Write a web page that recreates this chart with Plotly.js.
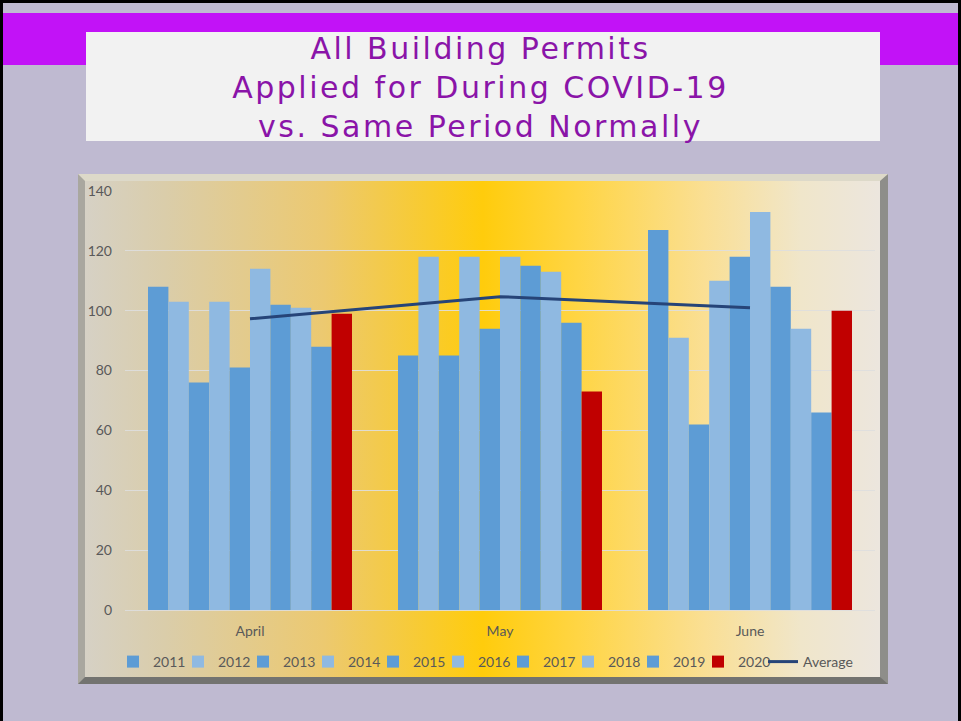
<!DOCTYPE html>
<html>
<head>
<meta charset="utf-8">
<script src="https://cdn.plot.ly/plotly-3.0.1.min.js"></script>
<style>
  html, body { margin: 0; padding: 0; }
  #stage { position: relative; width: 961px; height: 721px; background: #BFBAD1; overflow: hidden; }
  .abs { position: absolute; }
  #bTop { left: 0; top: 0; width: 961px; height: 3px; background: #000; }
  #bLeft { left: 0; top: 0; width: 3px; height: 721px; background: #000; }
  #bRight { left: 958px; top: 0; width: 3px; height: 721px; background: #000; }
  #band { left: 3px; top: 13px; width: 955px; height: 52px; background: #C212F7; }
  #tbox { left: 86px; top: 32px; width: 794px; height: 109px; background: #F2F2F2; }
  #frame { left: 78px; top: 174px; width: 795px; height: 496px;
    border-left: 7px solid #A9A79F; border-top: 7px solid #DDD9C9;
    border-right: 8px solid #8E8E8A; border-bottom: 7px solid #737370;
    background: linear-gradient(to right, rgb(214,209,197) 0%, rgb(218,205,170) 10%, rgb(236,201,112) 30%, rgb(255,204,12) 50%, rgb(255,213,68) 62%, rgb(250,223,148) 78%, rgb(240,230,202) 90%, rgb(236,230,222) 100%); }
  #plot { left: 0; top: 0; width: 961px; height: 721px; }
  #plot .gtitle { letter-spacing: 2.5px; }
  #plot g.scrollbox { clip-path: none !important; }
</style>
</head>
<body>
<div id="stage">
  <div class="abs" id="band"></div>
  <div class="abs" id="tbox"></div>
  <div class="abs" id="frame"></div>
  <div class="abs" id="bTop"></div>
  <div class="abs" id="bLeft"></div>
  <div class="abs" id="bRight"></div>
  <div class="abs" id="plot"></div>
</div>
<script>
const months = ['April', 'May', 'June'];
const years = ['2011', '2012', '2013', '2014', '2015', '2016', '2017', '2018', '2019', '2020'];
const v2011 = [108, 85, 127];
const v2012 = [103, 118, 91];
const v2013 = [76, 85, 62];
const v2014 = [103, 118, 110];
const v2015 = [81, 94, 118];
const v2016 = [114, 118, 133];
const v2017 = [102, 115, 108];
const v2018 = [101, 113, 94];
const v2019 = [88, 96, 66];
const v2020 = [99, 73, 100];
const average = [97.3, 104.7, 101.0];
const yTicks = [0, 20, 40, 60, 80, 100, 120, 140];

const series = [v2011, v2012, v2013, v2014, v2015, v2016, v2017, v2018, v2019, v2020];
const dark = '#5D9CD5', light = '#8FB9E1', red = '#C00000';

const traces = series.map((vals, i) => {
  const col = i === 9 ? red : (i % 2 === 0 ? dark : light);
  return {
    type: 'bar', name: years[i], x: months, y: vals,
    marker: { color: col, line: { width: 0 } },
    hoverinfo: 'name+y'
  };
});
traces.push({
  type: 'scatter', mode: 'lines', name: 'Average', x: months, y: average,
  line: { color: '#264478', width: 3 }
});

const tickFont = { family: 'Lato, "Open Sans", sans-serif', size: 14, color: '#595959' };

const layout = {
  width: 961, height: 721,
  margin: { l: 125, r: 86, t: 191, b: 111, pad: 0 },
  paper_bgcolor: 'rgba(0,0,0,0)',
  plot_bgcolor: 'rgba(0,0,0,0)',
  barmode: 'group', bargap: 0.184, bargroupgap: 0,
  title: {
    text: 'All Building Permits<br>Applied for During COVID-19<br>vs. Same Period Normally',
    font: { family: '"DejaVu Sans", sans-serif', size: 30, color: '#8A14A8' },
    x: 0.5, xref: 'container', xanchor: 'center',
    y: 1 - 59 / 721, yref: 'container', yanchor: 'top'
  },
  xaxis: {
    type: 'category', showgrid: false, zeroline: false, showline: false,
    ticks: '', tickfont: tickFont, ticklabelstandoff: 11
  },
  yaxis: {
    range: [0, 140], tickvals: yTicks, ticktext: yTicks.map(String),
    showgrid: true, gridcolor: 'rgba(222,222,222,0.9)', gridwidth: 1,
    zeroline: true, zerolinecolor: 'rgba(222,222,222,0.9)', zerolinewidth: 1,
    showline: false, ticks: '', tickfont: tickFont, ticklabelstandoff: 12
  },
  legend: {
    orientation: 'h', xref: 'container', yref: 'container',
    x: 113 / 961, xanchor: 'left', y: 1 - 662 / 721, yanchor: 'middle',
    font: tickFont, bgcolor: 'rgba(0,0,0,0)', traceorder: 'normal',
    itemwidth: 30, entrywidth: 20, entrywidthmode: 'pixels'
  },
  showlegend: true
};

Plotly.newPlot('plot', traces, layout, { displayModeBar: false, staticPlot: true });
</script>
</body>
</html>
